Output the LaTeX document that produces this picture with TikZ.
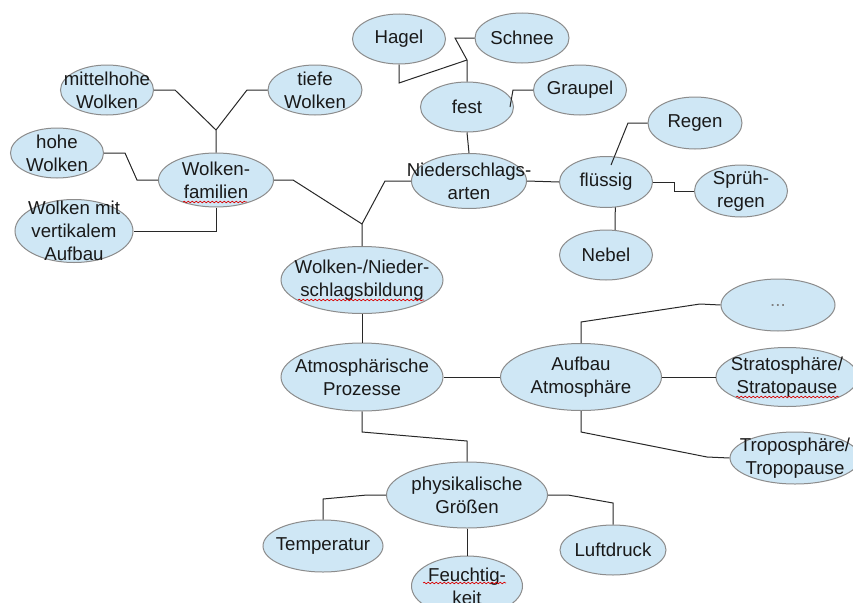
\documentclass[tikz,border=0pt]{standalone}
\usepackage{fontspec}
\setmainfont{Liberation Sans}
\usetikzlibrary{shapes.geometric, calc, decorations.pathmorphing}
\definecolor{wkFill}{RGB}{207,231,245}
\definecolor{wkEdge}{RGB}{140,140,140}
\definecolor{wkLine}{RGB}{40,40,40}

\begin{document}
\begin{tikzpicture}[
    x=0.75pt, y=-0.75pt,
    font=\fontsize{14}{17.25}\selectfont,
    bubble/.style={ellipse, draw=wkEdge, fill=wkFill, line width=0.75pt,
                   inner sep=-60pt, align=center, text=black!90},
    link/.style={draw=wkLine, line width=0.75pt},
    spell/.style={draw=red!85!black, line width=0.5pt, decorate,
                  decoration={snake, segment length=3pt, amplitude=0.6pt}}
]
\useasboundingbox (0,0) rectangle (853,603);
\clip (0,0) rectangle (853,603);
\fill[white] (0,0) rectangle (853,603);
\foreach \id/\px/\py/\w/\h/\txt in {
  hagel/399/39/93/50/{Hagel},
  schnee/522/38/94/50/{Schnee},
  fest/467/107/93/50/{fest},
  graupel/580/90/93/50/{Graupel},
  arten/469/181/115/55/{Niederschlags-\\arten},
  fluessig/606/182/93/51/{flüssig},
  regen/695/123/94/52/{Regen},
  spruehregen/741/191/93/52/{Sprüh-\\regen},
  nebel/606/255/93/50/{Nebel},
  mittelhohe/107/90/93/50/{mittelhohe\\Wolken},
  tiefe/315/90/94/50/{tiefe\\Wolken},
  hohe/57/153/93/50/{hohe\\Wolken},
  familien/216/180/115/54/{Wolken-\\familien},
  vertikal/74/231/118/63/{Wolken mit\\vertikalem\\Aufbau},
  bildung/362/280/162/67/{Wolken-/Nieder-\\schlagsbildung},
  prozesse/362/377/162/68/{Atmosphärische\\Prozesse},
  aufbau/581/377/161/67/{Aufbau\\Atmosphäre},
  dots/778/305/114/52/{\textcolor{gray}{...}},
  strato/787/377/142/59/{Stratosphäre/\\Stratopause},
  tropo/795/458/130/52/{Troposphäre/\\Tropopause},
  groessen/467/495/161/66/{physikalische\\Größen},
  temperatur/323/546/120/52/{Temperatur},
  feuchte/467/586/111/60/{Feuchtig-\\keit},
  luftdruck/613/550/106/50/{Luftdruck}}
{
   \node[bubble, minimum width=\w*0.75pt, minimum height=\h*0.75pt]
        (\id) at (\px,\py) {\txt};
}
\coordinate (jfest) at (467,60);
\coordinate (jwolk) at (216,130);
\coordinate (jbild) at (362,224);

\draw[link] (schnee.west) -- (455,38) -- (jfest) -- (fest.north);
\draw[link] (jfest) -- (399,83) -- (hagel.south);
\draw[link] (graupel.west) -- (513,90) -- ([xshift=-3pt]fest.east);
\draw[link] (fest.south) -- (arten.north);
\draw[link] (arten.east) -- (fluessig.west);
\draw[link] (regen.west) -- (628,123) -- ($(fluessig.north)+(5,9)$);
\draw[link] (fluessig.east) -- ++(21,0) |- (spruehregen.west);
\draw[link] (fluessig.-70) -- (nebel.70);
\draw[link] (arten.west) -- (385,181) -- (jbild);
\draw[link] (familien.east) -- (293,180) -- (jbild) -- (bildung.north);
\draw[link] (mittelhohe.east) -- (175,90) -- (jwolk);
\draw[link] (tiefe.west) -- (247,90) -- (jwolk) -- (familien.north);
\draw[link] (hohe.east) -- (125,153) -- (137,180) -- (familien.west);
\draw[link] (familien.south) |- (vertikal.east);
\draw[link] (bildung.south) -- (prozesse.north);
\draw[link] (prozesse.east) -- (aufbau.west);
\draw[link] (prozesse.south) -- (362,432) -- (467,441) -- (groessen.north);
\draw[link] (aufbau.north) -- (581,322) -- (700,304) -- (dots.west);
\draw[link] (aufbau.east) -- (strato.west);
\draw[link] (aufbau.south) -- (581,432) -- (707,457) -- (tropo.west);
\draw[link] (groessen.west) -- (367,495) -- (323,499) -- (temperatur.north);
\draw[link] (groessen.east) -- (568,495) -- (613,503) -- (luftdruck.north);
\draw[link] (groessen.south) -- (feuchte.north);

\draw[spell] ($(familien)+(-33,22)$) -- ($(familien)+(31,22)$);
\draw[spell] ($(bildung)+(-64,20)$) -- ($(bildung)+(62,20)$);
\draw[spell] ($(strato)+(-51,20)$) -- ($(strato)+(52,20)$);
\draw[spell] ($(feuchte)+(-44,-3)$) -- ($(feuchte)+(39,-3)$);
\end{tikzpicture}
\end{document}
